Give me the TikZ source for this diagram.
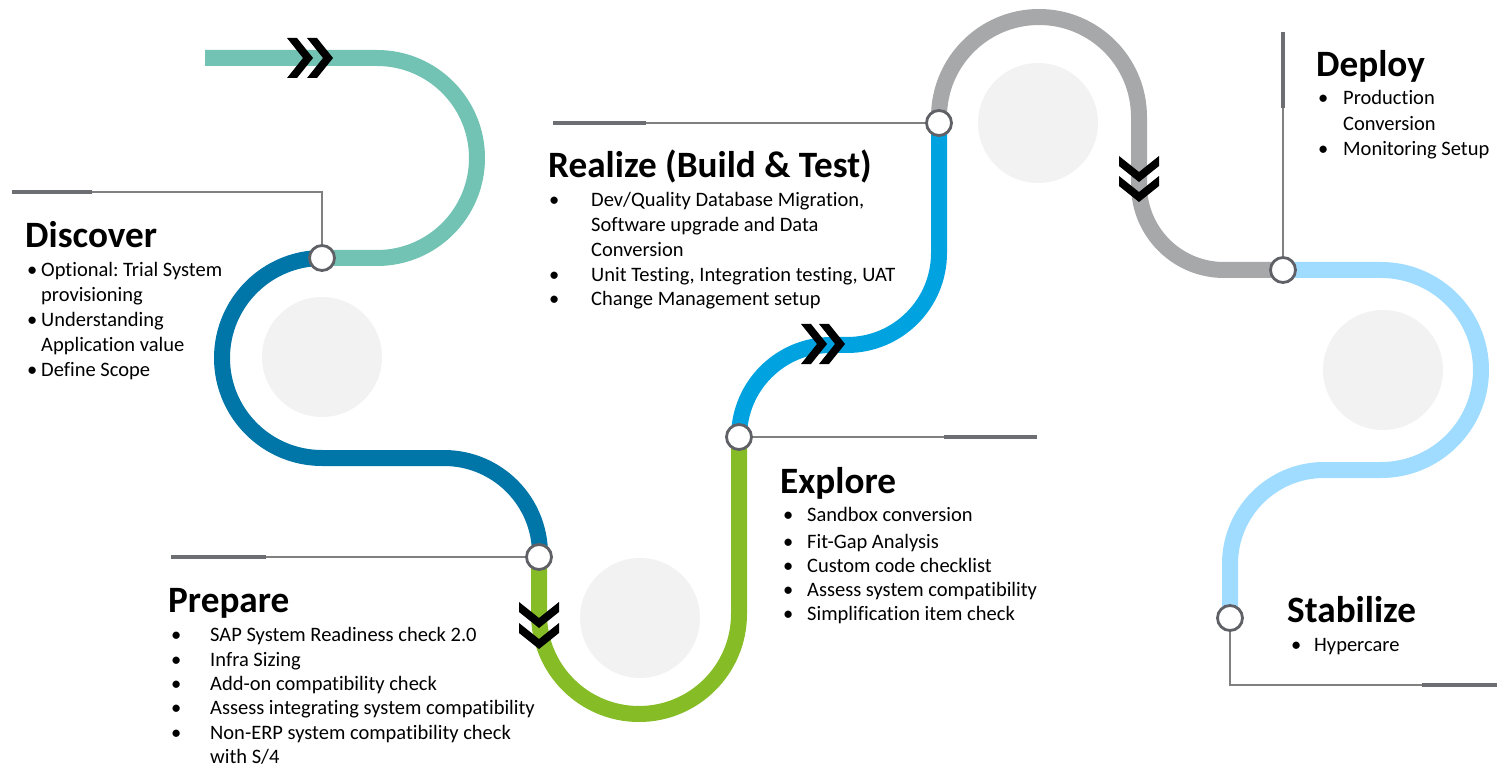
\documentclass[tikz,border=0pt]{standalone}
\usepackage{fontspec}
\setmainfont{Carlito}[Ligatures={NoCommon}]
\usepackage{array}
\definecolor{tealc}{HTML}{72C3B3}
\definecolor{dblue}{HTML}{0076A8}
\definecolor{greenc}{HTML}{86BC25}
\definecolor{bluec}{HTML}{00A3E0}
\definecolor{greyc}{HTML}{A7A8AA}
\definecolor{lblue}{HTML}{A0DCFF}
\definecolor{discc}{HTML}{F2F2F2}
\definecolor{ringc}{HTML}{5F6166}
\definecolor{linec}{HTML}{808080}
\definecolor{barc}{HTML}{6D6E71}
\newcommand\myls[1]{\fontsize{20.5}{#1}\selectfont}
\frenchspacing
\begin{document}
\begin{tikzpicture}[x=1pt,y=-1pt,
  road/.style={line width=16pt},
  disc/.style={circle,fill=discc,minimum size=120pt,inner sep=0},
  ring/.style={circle,draw=ringc,line width=2.8pt,fill=white,minimum size=25pt,inner sep=0},
  thinl/.style={draw=linec,line width=1.4pt},
  barl/.style={draw=barc,line width=4.5pt},
  ttl/.style={font=\fontsize{37.2}{40}\selectfont\bfseries,anchor=base west,inner sep=0},
  lst/.style={anchor=base west,inner sep=0},
  chevR/.pic={\fill (-26,-20) -- (-16,-20) -- (0,0) -- (-16,20) -- (-26,20) -- (-10,0) -- cycle;},
  chevD/.pic={\fill (-20,-26) -- (-20,-16) -- (0,0) -- (20,-16) -- (20,-26) -- (0,-10) -- cycle;}
]
\useasboundingbox (0,0) rectangle (1497,767);

% backdrop discs
\node[disc] (d1) at (322,357) {};
\node[disc] (d2) at (640,618) {};
\node[disc] (d3) at (1038,123) {};
\node[disc] (d4) at (1383,370) {};

% stations
\coordinate (p0) at (205,58);
\coordinate (p1) at (322,258);
\coordinate (p2) at (539,557);
\coordinate (p3) at (739,437);
\coordinate (p4) at (939,123);
\coordinate (p5) at (1283,270);
\coordinate (p6) at (1230,618);

% road segments
\draw[road,tealc] (p0) -- (377,58) arc[start angle=-90,end angle=90,radius=100] -- (p1);
\draw[road,dblue] (p1) arc[start angle=-90,end angle=-270,radius=100] -- (444,458)
   arc[start angle=-90,end angle=0,radius=96] -- (p2);
\draw[road,greenc] (p2) -- (539,614) arc[start angle=180,end angle=0,radius=100] -- (p3);
\draw[road,bluec,rounded corners=92] (p3) -- (739,345) -- (939,345) -- (p4);
\draw[road,greyc] (p4) -- (939,117) arc[start angle=180,end angle=360,radius=100] -- (1139,185)
   arc[start angle=180,end angle=90,radius=85] -- (p5);
\draw[road,lblue] (p5) -- (1381,270) arc[start angle=-90,end angle=90,radius=100] -- (1324,470)
   arc[start angle=-90,end angle=-180,radius=94] -- (p6);

% chevrons
\pic at (313,58) {chevR};
\pic at (333,58) {chevR};
\pic at (827,344) {chevR};
\pic at (845,344) {chevR};
\pic at (539,628) {chevD};
\pic at (539,649) {chevD};
\pic at (1139,182) {chevD};
\pic at (1139,202) {chevD};

% station rings
\node[ring] (n1) at (p1) {};
\node[ring] (n2) at (p2) {};
\node[ring] (n3) at (p3) {};
\node[ring] (n4) at (p4) {};
\node[ring] (n5) at (p5) {};
\node[ring] (n6) at (p6) {};

% leader lines
\coordinate (k1) at (322,192); \coordinate (e1) at (92,192); \coordinate (f1) at (12,192);
\draw[thinl] (n1) -- (k1) -- (e1); \draw[barl] (e1) -- (f1);
\coordinate (e2) at (266,557); \coordinate (f2) at (171,557);
\draw[thinl] (n2) -- (e2); \draw[barl] (e2) -- (f2);
\coordinate (e3) at (944,437); \coordinate (f3) at (1037,437);
\draw[thinl] (n3) -- (e3); \draw[barl] (e3) -- (f3);
\coordinate (e4) at (646,123); \coordinate (f4) at (553,123);
\draw[thinl] (n4) -- (e4); \draw[barl] (e4) -- (f4);
\coordinate (e5) at (1283,108); \coordinate (f5) at (1283,32);
\draw[thinl] (n5) -- (e5); \draw[barl] (e5) -- (f5);
\coordinate (k6) at (1230,685); \coordinate (e6) at (1422,685); \coordinate (f6) at (1497,685);
\draw[thinl] (n6) -- (k6) -- (e6); \draw[barl] (e6) -- (f6);

% titles
\node[ttl] (t1) at (25,248) {Discover};
\node[ttl] (t2) at (168,612) {Prepare};
\node[ttl] (t3) at (780,493) {Explore};
\node[ttl] (t4) at (548,178) {Realize (Build \& Test)};
\node[ttl] (t5) at (1316,77) {Deploy};
\node[ttl] (t6) at (1287,622) {Stabilize};

% lists
\node[lst,font=\myls{25}] (l1) at (27,277) {\begin{tabular}[t]{@{}p{14pt}@{}l@{}}
\textbullet & Optional: Trial System\\
 & provisioning\\
\textbullet & Understanding\\
 & Application value\\
\textbullet & Define Scope
\end{tabular}};
\node[lst,font=\myls{24.2}] (l2) at (171,641) {\begin{tabular}[t]{@{}p{39pt}@{}l@{}}
\textbullet & SAP System Readiness check 2.0\\[1.3pt]
\textbullet & Infra Sizing\\
\textbullet & Add-on compatibility check\\
\textbullet & Assess integrating system compatibility\\
\textbullet & Non-ERP system compatibility check\\
 & with S/4
\end{tabular}};
\node[lst,font=\myls{24.3}] (l3) at (783,521) {\begin{tabular}[t]{@{}p{24pt}@{}l@{}}
\textbullet & Sandbox conversion\\[2.7pt]
\textbullet & Fit-Gap Analysis\\
\textbullet & Custom code checklist\\
\textbullet & Assess system compatibility\\
\textbullet & Simplification item check
\end{tabular}};
\node[lst,font=\myls{24.7}] (l4) at (549,207) {\begin{tabular}[t]{@{}p{42pt}@{}l@{}}
\textbullet & Dev/Quality Database Migration,\\
 & Software upgrade and Data\\
 & Conversion\\
\textbullet & Unit Testing, Integration testing, UAT\\
\textbullet & Change Management setup
\end{tabular}};
\node[lst,font=\myls{24.6}] (l5) at (1318,105) {\begin{tabular}[t]{@{}p{25pt}@{}l@{}}
\textbullet & Production\\[1.4pt]
 & Conversion\\
\textbullet & Monitoring Setup
\end{tabular}};
\node[lst,font=\myls{24.6}] (l6) at (1291,651) {\begin{tabular}[t]{@{}p{23pt}@{}l@{}}
\textbullet & Hypercare
\end{tabular}};
\end{tikzpicture}
\end{document}
